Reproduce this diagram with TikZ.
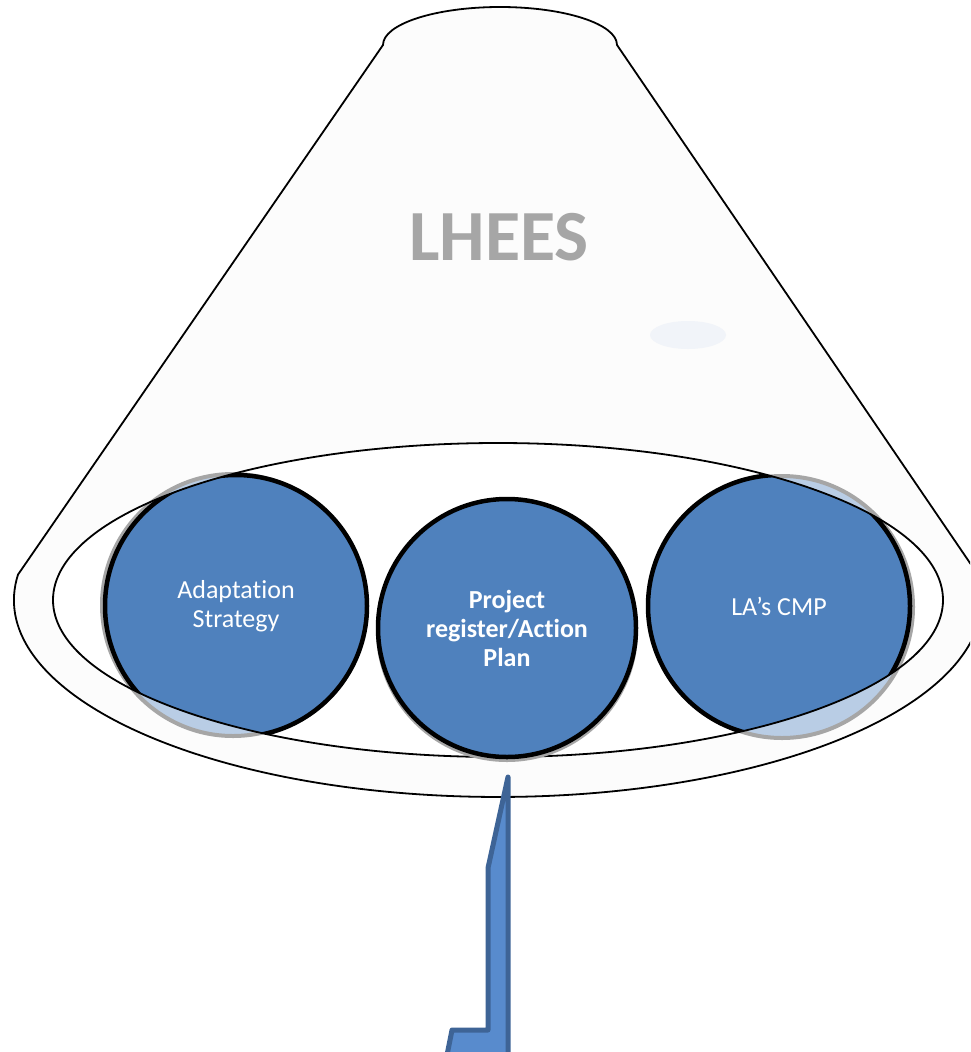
\documentclass[tikz,border=0pt]{standalone}
\usepackage{fontspec}
\newfontfamily\calibri[Ligatures=NoCommon]{Carlito}
\definecolor{ballblue}{RGB}{79,129,189}
\definecolor{shadeblue}{RGB}{185,205,229}
\definecolor{shadegray}{RGB}{166,166,166}
\definecolor{conefill}{RGB}{252,252,252}
\definecolor{spotblue}{RGB}{241,244,249}
\definecolor{arrowfill}{RGB}{88,139,205}
\definecolor{arrowline}{RGB}{62,100,150}
\begin{document}
\begin{tikzpicture}[x=1pt,y=1pt,line join=round,line cap=round,
	conebody/.style={draw=black,line width=1.8pt,fill=conefill},
	shadowball/.style={draw=shadegray,line width=4pt,fill=shadeblue},
	blueball/.style={circle,draw=black,line width=4.5pt,fill=ballblue,inner sep=0pt,
		minimum size=262,text=white,align=center,font=\calibri\fontsize{26}{29}\selectfont},
	arrowshape/.style={draw=arrowline,line width=5pt,fill=arrowfill}]
	\useasboundingbox (0,0) rectangle (970,-1052);
	\clip (0,0) rectangle (970,-1052);
	% funnel
	\draw[conebody] (383,-45) -- (18,-574.6)
		arc[start angle=172.6,end angle=367.4,x radius=484,y radius=197]
		-- (617,-45) arc[start angle=0,end angle=180,x radius=117,y radius=38] -- cycle;
	\fill[spotblue] (688,-335) ellipse [x radius=38,y radius=14];
	\node[font=\calibri\bfseries\fontsize{72}{72}\selectfont,text=shadegray] (lhees) at (499,-237) {LHEES};
	% opening with the balls
	\fill[white] (498,-600) ellipse [x radius=445,y radius=157];
	\draw[shadowball] (233,-605) circle [radius=131];
	\draw[shadowball] (782,-607) circle [radius=131];
	\begin{scope}
		\clip (498,-600) ellipse [x radius=445,y radius=157];
		\node[blueball] (adapt) at (236,-606) {Adaptation\\Strategy};
		\node[blueball] (cmp) at (779,-606) {LA’s CMP};
	\end{scope}
	\draw[line width=1.8pt] (498,-600) ellipse [x radius=445,y radius=157];
	\draw[shadowball] (507,-631) circle [radius=129];
	\node[blueball,minimum size=258,font=\calibri\bfseries\fontsize{26}{29}\selectfont] (plan) at (507,-628) {Project\\register/Action\\Plan};
	% arrow
	\draw[arrowshape] (508,-777) -- (508,-1060) -- (446,-1060) -- (452,-1030)
		-- (488,-1030) -- (488,-868) -- cycle;
\end{tikzpicture}
\end{document}
